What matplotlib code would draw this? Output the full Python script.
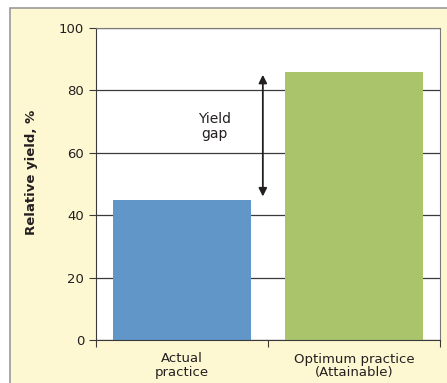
import matplotlib.pyplot as plt
from matplotlib.patches import Rectangle

categorias = ['Actual\npractice', 'Optimum practice\n(Attainable)']
rendimento = [45, 86]
cores = ['#6096c8', '#aac46b']
gap_inferior = 46
gap_superior = 85

fig = plt.figure(figsize=(4.47, 3.83), dpi=100)
# fundo amarelo com borda cinza
fundo = Rectangle((10 / 447, -0.1), 1.1, 1.1 - 8 / 383,
                  transform=fig.transFigure, facecolor='#fef8d2',
                  edgecolor='#9a9a9a', linewidth=1.2, zorder=-10)
fig.patches.append(fundo)

ax = fig.add_axes([96 / 447, 1 - 340 / 383, 344 / 447, 312 / 383])
ax.set_zorder(1)
ax.set_facecolor('white')
x = range(len(categorias))
ax.bar(x, rendimento, width=0.8, color=cores, zorder=2)

ax.set_xlim(-0.5, 1.5)
ax.set_ylim(0, 100)
ax.set_yticks([0, 20, 40, 60, 80, 100])
ax.grid(axis='y', color='#3a3a3a', linewidth=0.9, zorder=1)
ax.set_xticks([-0.5, 0.5, 1.5])
ax.set_xticklabels([])
ax.set_xticks(list(x), minor=True)
ax.set_xticklabels(categorias, minor=True, fontsize=9.5, color='#231f20', linespacing=1.05)
ax.tick_params(axis='x', which='minor', length=0, pad=9)
ax.tick_params(axis='x', which='major', length=5, color='#3a3a3a')
ax.tick_params(axis='y', length=5, color='#3a3a3a', labelsize=9.5, labelcolor='#231f20')
for lado in ['left', 'bottom']:
    ax.spines[lado].set_color('#3a3a3a')
for lado in ['top', 'right']:
    ax.spines[lado].set_color('#7a7a7a')

ax.set_ylabel('Relative yield, %', fontsize=9.5, fontweight='bold', color='#231f20')
ax.yaxis.set_label_coords(-0.17, 0.538)

ax.annotate('', xy=(0.47, gap_superior), xytext=(0.47, gap_inferior),
            arrowprops=dict(arrowstyle='<|-|>', color='#231f20', lw=1.3,
                            mutation_scale=12, shrinkA=0, shrinkB=0), zorder=3)
ax.text(0.19, 68.5, 'Yield\ngap', ha='center', va='center', fontsize=10,
        color='#231f20', linespacing=1.1)

fig.savefig('out.png', dpi=100)
